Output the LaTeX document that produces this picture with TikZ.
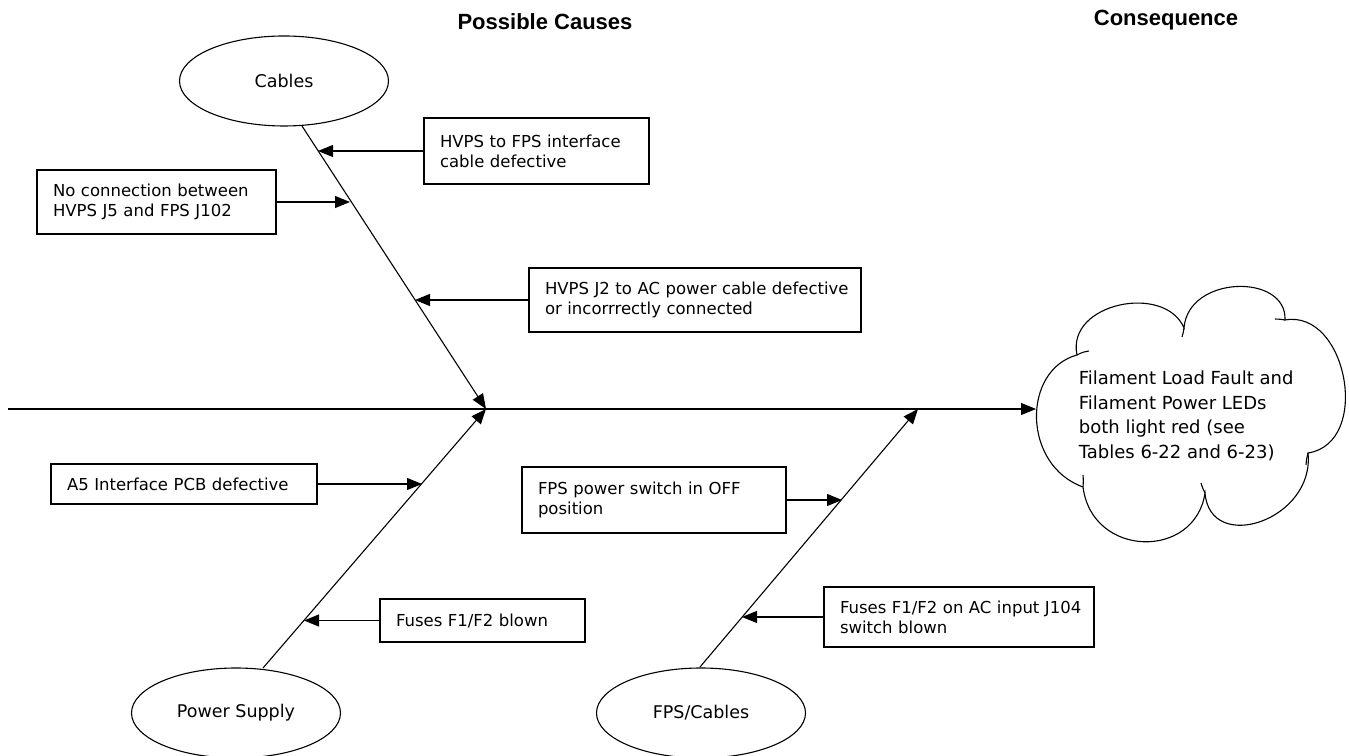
\documentclass[tikz,border=0pt]{standalone}
\usepackage{fontspec}
\setmainfont{DejaVu Sans}
\newfontfamily\headfont{Liberation Sans}
\usetikzlibrary{arrows.meta,shapes.geometric}
\begin{document}
\begin{tikzpicture}[x=1pt,y=1pt,line width=1.1pt,
  tip/.style={-{Triangle[length=15pt,width=12pt]}},
  cbox/.style={draw,rectangle,inner xsep=16pt,inner ysep=0pt,outer sep=0pt,align=left,anchor=north west,line width=1.3pt,font=\fontsize{16.5}{20}\selectfont},
  oval/.style={draw,ellipse,minimum width=209pt,minimum height=90pt,inner sep=0pt,font=\fontsize{17.5}{21}\selectfont},
  head/.style={font=\headfont\bfseries\fontsize{22}{26}\selectfont}]
\useasboundingbox (0,0) rectangle (1349,755);

% headings
\node[head] (h1) at (545,733) {Possible Causes};
\node[head] (h2) at (1166,735) {Consequence};

% category ellipses
\node[oval] (cab) at (284,674) {Cables};
\node[oval] (ps) at (236,42) {Power Supply};
\node[oval] (fps) at (701,42) {FPS/Cables};

% key coordinates
\coordinate (mainL) at (8,346);
\coordinate (J) at (486,346);
\coordinate (Jf) at (918,346);
\coordinate (cloudL) at (1036,346);
\coordinate (cabfoot) at (302,629);
\coordinate (psfoot) at (263,87);
\coordinate (fpsfoot) at (700,88);

% cloud
\draw[line width=1.1pt,fill=white] (1083,268) .. controls (1022,290) and (1022,385) .. (1077,400)
  .. controls (1066,452) and (1165,472) .. (1184,427)
  .. controls (1188,480) and (1287,482) .. (1285,435)
  .. controls (1347,446) and (1372,312) .. (1308,302)
  .. controls (1315,235) and (1210,200) .. (1205,262)
  .. controls (1195,195) and (1092,197) .. (1083,268) -- cycle;
% small inner ticks of the cloud outline
\draw[line width=1.1pt] (1077,400) to[bend left=10] (1089,404);
\draw[line width=1.1pt] (1184,427) to[bend left=5] (1182,418);
\draw[line width=1.1pt] (1285,435) to[bend right=5] (1275,436);
\draw[line width=1.1pt] (1308,302) to[bend right=5] (1306,290);
\draw[line width=1.1pt] (1205,262) to[bend left=5] (1201,272);
\draw[line width=1.1pt] (1083,268) to[bend right=5] (1083,280);
\node[align=left,anchor=west,font=\fontsize{18}{24.5}\selectfont] (cons) at (1075,339)
  {Filament Load Fault and\\Filament Power LEDs\\both light red (see\\Tables 6-22 and 6-23)};

% spine and bones
\draw[tip] (mainL) -- (cloudL);
\draw[tip] (cabfoot) -- (J);
\draw[tip] (psfoot) -- (J);
\draw[tip] (fpsfoot) -- (Jf);

% cause boxes
\node[cbox,text width=193pt,minimum height=66pt] (b1) at (424,637) {HVPS to FPS interface\\cable defective};
\node[cbox,text width=207pt,minimum height=64pt] (b2) at (37,585) {No connection between\\HVPS J5 and FPS J102};
\node[cbox,text width=300pt,minimum height=64pt] (b3) at (529,487) {\mbox{HVPS J2 to AC power cable defective}\\or incorrrectly connected};
\node[cbox,text width=234pt,minimum height=40pt] (b4) at (51,291) {A5 Interface PCB defective};
\node[cbox,text width=173pt,minimum height=43pt] (b5) at (380,156) {Fuses F1/F2 blown};
\node[cbox,text width=232pt,minimum height=66pt] (b6) at (522,288) {FPS power switch in OFF\\position};
\node[cbox,text width=238pt,minimum height=60pt] (b7) at (824,168) {\mbox{Fuses F1/F2 on AC input J104}\\switch blown};

% arrow tips on the bones (x positions)
\coordinate (t1) at (318,604);
\coordinate (t2) at (350,555);
\coordinate (t3) at (415,455);
\coordinate (t4) at (422,272);
\coordinate (t5) at (304,135);
\coordinate (t6) at (842,256);
\coordinate (t7) at (742,138);

\draw[tip] (b1.west) -- (b1.west -| t1);
\draw[tip] (b2.east) -- (b2.east -| t2);
\draw[tip] (b3.west) -- (b3.west -| t3);
\draw[tip] (b4.east) -- (b4.east -| t4);
\draw[tip] (b5.west) -- (b5.west -| t5);
\draw[tip] (b6.east) -- (b6.east -| t6);
\draw[tip] (b7.west) -- (b7.west -| t7);
\end{tikzpicture}
\end{document}
